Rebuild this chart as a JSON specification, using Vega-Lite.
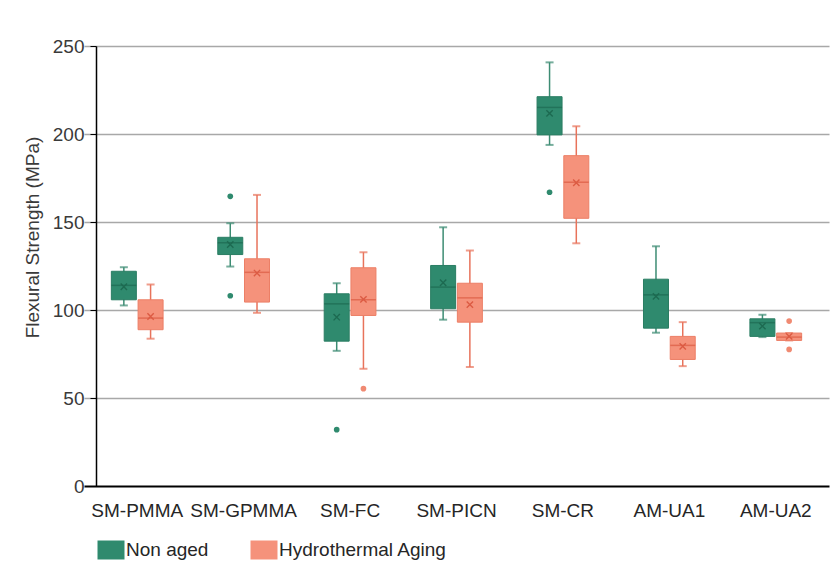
{
  "$schema": "https://vega.github.io/schema/vega-lite/v6.json",
  "width": 721,
  "height": 440,
  "autosize": "none",
  "padding": {"left": 96, "top": 46, "right": 16, "bottom": 83},
  "background": "white",
  "datasets": {
    "boxes": [
      {"group": "SM-PMMA", "series": "Non aged", "min": 102.6, "q1": 105.8, "median": 114, "q3": 122, "max": 124.3, "mean": 113.2},
      {"group": "SM-PMMA", "series": "Hydrothermal Aging", "min": 83.7, "q1": 88.8, "median": 95.4, "q3": 105.8, "max": 114.5, "mean": 96.3},
      {"group": "SM-GPMMA", "series": "Non aged", "min": 124.7, "q1": 131.5, "median": 138.2, "q3": 141.3, "max": 149.3, "mean": 137.2},
      {"group": "SM-GPMMA", "series": "Hydrothermal Aging", "min": 98.4, "q1": 104.5, "median": 121.4, "q3": 129.1, "max": 165.4, "mean": 121},
      {"group": "SM-FC", "series": "Non aged", "min": 76.8, "q1": 82.3, "median": 103.5, "q3": 109.2, "max": 115.2, "mean": 95.9},
      {"group": "SM-FC", "series": "Hydrothermal Aging", "min": 66.6, "q1": 96.9, "median": 105.8, "q3": 124, "max": 132.8, "mean": 106},
      {"group": "SM-PICN", "series": "Non aged", "min": 94.5, "q1": 100.7, "median": 113, "q3": 125.3, "max": 147, "mean": 115.5},
      {"group": "SM-PICN", "series": "Hydrothermal Aging", "min": 67.6, "q1": 93.1, "median": 106.9, "q3": 115.2, "max": 133.8, "mean": 103.1},
      {"group": "SM-CR", "series": "Non aged", "min": 193.8, "q1": 199.5, "median": 215.1, "q3": 221.2, "max": 240.7, "mean": 211.7},
      {"group": "SM-CR", "series": "Hydrothermal Aging", "min": 137.9, "q1": 152.1, "median": 172.6, "q3": 187.7, "max": 204.4, "mean": 172.3},
      {"group": "AM-UA1", "series": "Non aged", "min": 87.1, "q1": 89.7, "median": 108.6, "q3": 117.5, "max": 136.2, "mean": 107.7},
      {"group": "AM-UA1", "series": "Hydrothermal Aging", "min": 68.1, "q1": 71.9, "median": 79.9, "q3": 85, "max": 93.1, "mean": 79.3},
      {"group": "AM-UA2", "series": "Non aged", "min": 84.6, "q1": 85, "median": 92.8, "q3": 95, "max": 97.3, "mean": 90.8},
      {"group": "AM-UA2", "series": "Hydrothermal Aging", "min": 82.7, "q1": 82.7, "median": 84.6, "q3": 86.9, "max": 86.9, "mean": 85}
    ],
    "outliers": [
      {"group": "SM-GPMMA", "series": "Non aged", "value": 164.6},
      {"group": "SM-GPMMA", "series": "Non aged", "value": 108.1},
      {"group": "SM-FC", "series": "Non aged", "value": 32.0},
      {"group": "SM-FC", "series": "Hydrothermal Aging", "value": 55.3},
      {"group": "SM-CR", "series": "Non aged", "value": 166.9},
      {"group": "AM-UA2", "series": "Hydrothermal Aging", "value": 93.7},
      {"group": "AM-UA2", "series": "Hydrothermal Aging", "value": 77.6}
    ]
  },
  "config": {
    "font": "Liberation Sans",
    "view": {"stroke": null},
    "axis": {
      "labelFont": "Liberation Sans",
      "labelFontSize": 19,
      "labelColor": "#3a3a3a",
      "titleFont": "Liberation Sans",
      "titleFontSize": 19,
      "titleFontWeight": "normal",
      "titleColor": "#3a3a3a"
    },
    "legend": {
      "orient": "bottom",
      "direction": "horizontal",
      "symbolType": "M-1.35,-0.95H1.35V0.95H-1.35Z",
      "symbolSize": 400,
      "symbolStrokeWidth": 0,
      "labelFont": "Liberation Sans",
      "labelFontSize": 19,
      "labelColor": "#262626",
      "labelOffset": 5,
      "labelLimit": 0,
      "columnPadding": 41,
      "offset": 15,
      "padding": 5,
      "title": null
    }
  },
  "resolve": {"scale": {"color": "independent", "fill": "independent", "stroke": "independent"}},
  "layer": [
    {
      "data": {"name": "boxes"},
      "mark": {"type": "rule", "strokeWidth": 1.5},
      "encoding": {
        "x": {
          "field": "group", "type": "nominal",
          "sort": ["SM-PMMA", "SM-GPMMA", "SM-FC", "SM-PICN", "SM-CR", "AM-UA1", "AM-UA2"],
          "scale": {"range": [-12, 733], "paddingInner": 0, "paddingOuter": 0},
          "axis": {"title": null, "ticks": false, "domain": false, "grid": false, "labelAngle": 0, "labelPadding": 15, "labelColor": "#262626"}
        },
        "xOffset": {"field": "series", "type": "nominal", "sort": ["Non aged", "Hydrothermal Aging"], "scale": {"paddingInner": 0, "paddingOuter": 0.99}},
        "y": {
          "field": "min", "type": "quantitative",
          "title": "Flexural Strength (MPa)",
          "scale": {"domain": [0, 250], "nice": false},
          "axis": {
            "values": [0, 50, 100, 150, 200, 250],
            "grid": true,
            "gridColor": {"condition": {"test": "datum.value === 0", "value": "#000000"}, "value": "#a8a8a8"},
            "gridWidth": {"condition": {"test": "datum.value === 0", "value": 2}, "value": 1.5},
            "domainColor": "#000000",
            "domainWidth": 1.5,
            "tickColor": "#000000",
            "tickSize": 6,
            "labelPadding": 6,
            "titlePadding": 10,
            "titleY": 191
          }
        },
        "y2": {"field": "max"},
        "color": {"field": "series", "type": "nominal", "scale": {"domain": ["Non aged", "Hydrothermal Aging"], "range": ["#3d8c73", "#e8735b"]}, "legend": null}
      }
    },
    {
      "data": {"name": "boxes"},
      "mark": {"type": "tick", "size": 8, "thickness": 2},
      "encoding": {
        "x": {"field": "group", "type": "nominal", "sort": ["SM-PMMA", "SM-GPMMA", "SM-FC", "SM-PICN", "SM-CR", "AM-UA1", "AM-UA2"]},
        "xOffset": {"field": "series", "type": "nominal", "sort": ["Non aged", "Hydrothermal Aging"]},
        "y": {"field": "min", "type": "quantitative", "title": "Flexural Strength (MPa)"},
        "color": {"field": "series", "type": "nominal", "scale": {"domain": ["Non aged", "Hydrothermal Aging"], "range": ["#3d8c73", "#e8735b"]}, "legend": null}
      }
    },
    {
      "data": {"name": "boxes"},
      "mark": {"type": "tick", "size": 8, "thickness": 2},
      "encoding": {
        "x": {"field": "group", "type": "nominal", "sort": ["SM-PMMA", "SM-GPMMA", "SM-FC", "SM-PICN", "SM-CR", "AM-UA1", "AM-UA2"]},
        "xOffset": {"field": "series", "type": "nominal", "sort": ["Non aged", "Hydrothermal Aging"]},
        "y": {"field": "max", "type": "quantitative", "title": "Flexural Strength (MPa)"},
        "color": {"field": "series", "type": "nominal", "scale": {"domain": ["Non aged", "Hydrothermal Aging"], "range": ["#3d8c73", "#e8735b"]}, "legend": null}
      }
    },
    {
      "data": {"name": "boxes"},
      "mark": {"type": "bar", "width": 25, "strokeWidth": 1},
      "encoding": {
        "x": {"field": "group", "type": "nominal", "sort": ["SM-PMMA", "SM-GPMMA", "SM-FC", "SM-PICN", "SM-CR", "AM-UA1", "AM-UA2"]},
        "xOffset": {"field": "series", "type": "nominal", "sort": ["Non aged", "Hydrothermal Aging"]},
        "y": {"field": "q1", "type": "quantitative", "title": "Flexural Strength (MPa)"},
        "y2": {"field": "q3"},
        "fill": {"field": "series", "type": "nominal", "sort": ["Non aged", "Hydrothermal Aging"], "scale": {"domain": ["Non aged", "Hydrothermal Aging"], "range": ["#2f8a6e", "#f5927b"]}, "legend": {}},
        "stroke": {"field": "series", "type": "nominal", "scale": {"domain": ["Non aged", "Hydrothermal Aging"], "range": ["#2a7d63", "#ec7f66"]}, "legend": null}
      }
    },
    {
      "data": {"name": "boxes"},
      "mark": {"type": "tick", "size": 25, "thickness": 1.5},
      "encoding": {
        "x": {"field": "group", "type": "nominal", "sort": ["SM-PMMA", "SM-GPMMA", "SM-FC", "SM-PICN", "SM-CR", "AM-UA1", "AM-UA2"]},
        "xOffset": {"field": "series", "type": "nominal", "sort": ["Non aged", "Hydrothermal Aging"]},
        "y": {"field": "median", "type": "quantitative", "title": "Flexural Strength (MPa)"},
        "color": {"field": "series", "type": "nominal", "scale": {"domain": ["Non aged", "Hydrothermal Aging"], "range": ["#1d6a51", "#dc5b43"]}, "legend": null}
      }
    },
    {
      "data": {"name": "boxes"},
      "mark": {"type": "point", "shape": "M-1,-1L1,1M-1,1L1,-1", "size": 40, "filled": false, "strokeWidth": 1.4, "opacity": 1},
      "encoding": {
        "x": {"field": "group", "type": "nominal", "sort": ["SM-PMMA", "SM-GPMMA", "SM-FC", "SM-PICN", "SM-CR", "AM-UA1", "AM-UA2"]},
        "xOffset": {"field": "series", "type": "nominal", "sort": ["Non aged", "Hydrothermal Aging"]},
        "y": {"field": "mean", "type": "quantitative", "title": "Flexural Strength (MPa)"},
        "color": {"field": "series", "type": "nominal", "scale": {"domain": ["Non aged", "Hydrothermal Aging"], "range": ["#1d6a51", "#dc5b43"]}, "legend": null}
      }
    },
    {
      "data": {"name": "outliers"},
      "mark": {"type": "point", "shape": "circle", "size": 32, "filled": true, "opacity": 1},
      "encoding": {
        "x": {"field": "group", "type": "nominal", "sort": ["SM-PMMA", "SM-GPMMA", "SM-FC", "SM-PICN", "SM-CR", "AM-UA1", "AM-UA2"]},
        "xOffset": {"field": "series", "type": "nominal", "sort": ["Non aged", "Hydrothermal Aging"]},
        "y": {"field": "value", "type": "quantitative", "title": "Flexural Strength (MPa)"},
        "color": {"field": "series", "type": "nominal", "scale": {"domain": ["Non aged", "Hydrothermal Aging"], "range": ["#2f8a6e", "#f08a72"]}, "legend": null}
      }
    }
  ]
}
